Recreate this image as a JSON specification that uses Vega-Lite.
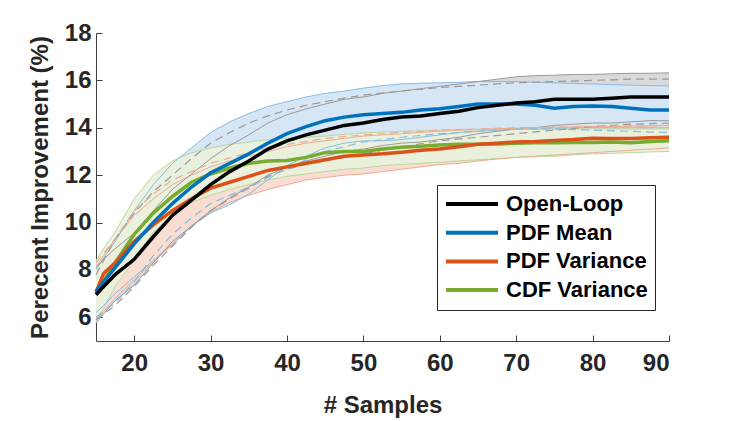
{
  "$schema": "https://vega.github.io/schema/vega-lite/v6.json",
  "width": 573,
  "height": 308,
  "autosize": {"type": "none"},
  "padding": {"left": 96, "top": 33, "right": 70, "bottom": 80},
  "background": "white",
  "config": {
    "view": {"stroke": null},
    "axis": {
      "grid": false,
      "domainColor": "#404040",
      "tickColor": "#404040",
      "tickSize": -6,
      "labelFont": "Liberation Sans",
      "labelFontWeight": "bold",
      "labelFontSize": 24,
      "labelColor": "#262626",
      "titleFont": "Liberation Sans",
      "titleFontWeight": "bold",
      "titleFontSize": 24,
      "titleColor": "#262626"
    }
  },
  "datasets": {
    "main": [
      {"x": 15, "s": "CDF Variance", "m": 7.0, "lo": 5.9, "hi": 8.4},
      {"x": 16, "s": "CDF Variance", "m": 7.5, "lo": 6.4, "hi": 8.9},
      {"x": 17.5, "s": "CDF Variance", "m": 8.3, "lo": 7.3, "hi": 9.6},
      {"x": 20, "s": "CDF Variance", "m": 9.5, "lo": 8.4, "hi": 11.0},
      {"x": 22.5, "s": "CDF Variance", "m": 10.4, "lo": 9.6, "hi": 12.0},
      {"x": 25, "s": "CDF Variance", "m": 11.1, "lo": 10.3, "hi": 12.6},
      {"x": 27.5, "s": "CDF Variance", "m": 11.7, "lo": 10.85, "hi": 12.95},
      {"x": 30, "s": "CDF Variance", "m": 12.05, "lo": 11.15, "hi": 13.15},
      {"x": 32.5, "s": "CDF Variance", "m": 12.3, "lo": 11.4, "hi": 13.3},
      {"x": 35, "s": "CDF Variance", "m": 12.5, "lo": 11.6, "hi": 13.4},
      {"x": 37.5, "s": "CDF Variance", "m": 12.6, "lo": 11.8, "hi": 13.5},
      {"x": 40, "s": "CDF Variance", "m": 12.62, "lo": 11.95, "hi": 13.55},
      {"x": 42.5, "s": "CDF Variance", "m": 12.75, "lo": 12.05, "hi": 13.6},
      {"x": 45, "s": "CDF Variance", "m": 12.95, "lo": 12.15, "hi": 13.65},
      {"x": 47.5, "s": "CDF Variance", "m": 13.0, "lo": 12.25, "hi": 13.72},
      {"x": 50, "s": "CDF Variance", "m": 13.0, "lo": 12.3, "hi": 13.78},
      {"x": 52.5, "s": "CDF Variance", "m": 13.1, "lo": 12.4, "hi": 13.82},
      {"x": 55, "s": "CDF Variance", "m": 13.18, "lo": 12.45, "hi": 13.85},
      {"x": 57.5, "s": "CDF Variance", "m": 13.22, "lo": 12.5, "hi": 13.87},
      {"x": 60, "s": "CDF Variance", "m": 13.27, "lo": 12.55, "hi": 13.9},
      {"x": 62.5, "s": "CDF Variance", "m": 13.3, "lo": 12.6, "hi": 13.92},
      {"x": 65, "s": "CDF Variance", "m": 13.3, "lo": 12.65, "hi": 13.93},
      {"x": 67.5, "s": "CDF Variance", "m": 13.32, "lo": 12.7, "hi": 13.95},
      {"x": 70, "s": "CDF Variance", "m": 13.35, "lo": 12.75, "hi": 13.95},
      {"x": 72.5, "s": "CDF Variance", "m": 13.37, "lo": 12.78, "hi": 13.95},
      {"x": 75, "s": "CDF Variance", "m": 13.37, "lo": 12.8, "hi": 13.95},
      {"x": 77.5, "s": "CDF Variance", "m": 13.38, "lo": 12.85, "hi": 13.95},
      {"x": 80, "s": "CDF Variance", "m": 13.38, "lo": 12.9, "hi": 13.95},
      {"x": 82.5, "s": "CDF Variance", "m": 13.4, "lo": 12.92, "hi": 13.95},
      {"x": 85, "s": "CDF Variance", "m": 13.37, "lo": 12.95, "hi": 13.95},
      {"x": 87.5, "s": "CDF Variance", "m": 13.42, "lo": 12.98, "hi": 13.95},
      {"x": 90, "s": "CDF Variance", "m": 13.45, "lo": 13.0, "hi": 13.95},

      {"x": 15, "s": "PDF Variance", "m": 7.05, "lo": 5.9, "hi": 8.1},
      {"x": 16, "s": "PDF Variance", "m": 7.85, "lo": 6.25, "hi": 8.6},
      {"x": 17.5, "s": "PDF Variance", "m": 8.3, "lo": 6.8, "hi": 9.3},
      {"x": 20, "s": "PDF Variance", "m": 9.2, "lo": 7.6, "hi": 10.3},
      {"x": 22.5, "s": "PDF Variance", "m": 9.9, "lo": 8.35, "hi": 11.0},
      {"x": 25, "s": "PDF Variance", "m": 10.5, "lo": 9.05, "hi": 11.6},
      {"x": 27.5, "s": "PDF Variance", "m": 11.0, "lo": 9.85, "hi": 12.0},
      {"x": 30, "s": "PDF Variance", "m": 11.45, "lo": 10.45, "hi": 12.35},
      {"x": 32.5, "s": "PDF Variance", "m": 11.7, "lo": 10.85, "hi": 12.6},
      {"x": 35, "s": "PDF Variance", "m": 11.95, "lo": 11.15, "hi": 12.8},
      {"x": 37.5, "s": "PDF Variance", "m": 12.2, "lo": 11.4, "hi": 13.0},
      {"x": 40, "s": "PDF Variance", "m": 12.35, "lo": 11.6, "hi": 13.2},
      {"x": 42.5, "s": "PDF Variance", "m": 12.5, "lo": 11.8, "hi": 13.35},
      {"x": 45, "s": "PDF Variance", "m": 12.65, "lo": 11.9, "hi": 13.45},
      {"x": 47.5, "s": "PDF Variance", "m": 12.8, "lo": 12.0, "hi": 13.55},
      {"x": 50, "s": "PDF Variance", "m": 12.85, "lo": 12.05, "hi": 13.65},
      {"x": 52.5, "s": "PDF Variance", "m": 12.9, "lo": 12.15, "hi": 13.7},
      {"x": 55, "s": "PDF Variance", "m": 12.97, "lo": 12.25, "hi": 13.75},
      {"x": 57.5, "s": "PDF Variance", "m": 13.05, "lo": 12.35, "hi": 13.8},
      {"x": 60, "s": "PDF Variance", "m": 13.1, "lo": 12.45, "hi": 13.85},
      {"x": 62.5, "s": "PDF Variance", "m": 13.2, "lo": 12.5, "hi": 13.9},
      {"x": 65, "s": "PDF Variance", "m": 13.3, "lo": 12.6, "hi": 13.92},
      {"x": 67.5, "s": "PDF Variance", "m": 13.35, "lo": 12.68, "hi": 13.95},
      {"x": 70, "s": "PDF Variance", "m": 13.4, "lo": 12.75, "hi": 13.98},
      {"x": 72.5, "s": "PDF Variance", "m": 13.42, "lo": 12.8, "hi": 14.0},
      {"x": 75, "s": "PDF Variance", "m": 13.46, "lo": 12.85, "hi": 14.02},
      {"x": 77.5, "s": "PDF Variance", "m": 13.5, "lo": 12.9, "hi": 14.03},
      {"x": 80, "s": "PDF Variance", "m": 13.56, "lo": 12.95, "hi": 14.05},
      {"x": 82.5, "s": "PDF Variance", "m": 13.55, "lo": 13.0, "hi": 14.05},
      {"x": 85, "s": "PDF Variance", "m": 13.55, "lo": 13.05, "hi": 14.07},
      {"x": 87.5, "s": "PDF Variance", "m": 13.58, "lo": 13.1, "hi": 14.08},
      {"x": 90, "s": "PDF Variance", "m": 13.6, "lo": 13.15, "hi": 14.1},

      {"x": 15, "s": "PDF Mean", "m": 7.1, "lo": 6.2, "hi": 8.0},
      {"x": 16, "s": "PDF Mean", "m": 7.5, "lo": 6.5, "hi": 8.5},
      {"x": 17.5, "s": "PDF Mean", "m": 8.1, "lo": 7.0, "hi": 9.2},
      {"x": 20, "s": "PDF Mean", "m": 9.1, "lo": 7.7, "hi": 10.5},
      {"x": 22.5, "s": "PDF Mean", "m": 10.0, "lo": 8.4, "hi": 11.6},
      {"x": 25, "s": "PDF Mean", "m": 10.8, "lo": 9.1, "hi": 12.5},
      {"x": 27.5, "s": "PDF Mean", "m": 11.5, "lo": 9.85, "hi": 13.15},
      {"x": 30, "s": "PDF Mean", "m": 12.1, "lo": 10.4, "hi": 13.8},
      {"x": 32.5, "s": "PDF Mean", "m": 12.5, "lo": 10.75, "hi": 14.25},
      {"x": 35, "s": "PDF Mean", "m": 12.9, "lo": 11.2, "hi": 14.6},
      {"x": 37.5, "s": "PDF Mean", "m": 13.35, "lo": 11.8, "hi": 14.9},
      {"x": 40, "s": "PDF Mean", "m": 13.75, "lo": 12.4, "hi": 15.1},
      {"x": 42.5, "s": "PDF Mean", "m": 14.05, "lo": 12.8, "hi": 15.3},
      {"x": 45, "s": "PDF Mean", "m": 14.3, "lo": 13.15, "hi": 15.45},
      {"x": 47.5, "s": "PDF Mean", "m": 14.45, "lo": 13.35, "hi": 15.55},
      {"x": 50, "s": "PDF Mean", "m": 14.55, "lo": 13.45, "hi": 15.67},
      {"x": 52.5, "s": "PDF Mean", "m": 14.6, "lo": 13.45, "hi": 15.78},
      {"x": 55, "s": "PDF Mean", "m": 14.65, "lo": 13.5, "hi": 15.85},
      {"x": 57.5, "s": "PDF Mean", "m": 14.75, "lo": 13.6, "hi": 15.88},
      {"x": 60, "s": "PDF Mean", "m": 14.8, "lo": 13.7, "hi": 15.9},
      {"x": 62.5, "s": "PDF Mean", "m": 14.9, "lo": 13.8, "hi": 15.92},
      {"x": 65, "s": "PDF Mean", "m": 15.0, "lo": 13.85, "hi": 15.95},
      {"x": 67.5, "s": "PDF Mean", "m": 15.0, "lo": 13.9, "hi": 15.95},
      {"x": 70, "s": "PDF Mean", "m": 15.0, "lo": 13.95, "hi": 15.95},
      {"x": 72.5, "s": "PDF Mean", "m": 14.95, "lo": 13.95, "hi": 15.92},
      {"x": 75, "s": "PDF Mean", "m": 14.82, "lo": 13.95, "hi": 15.9},
      {"x": 77.5, "s": "PDF Mean", "m": 14.9, "lo": 14.0, "hi": 15.87},
      {"x": 80, "s": "PDF Mean", "m": 14.92, "lo": 14.0, "hi": 15.85},
      {"x": 82.5, "s": "PDF Mean", "m": 14.9, "lo": 14.0, "hi": 15.82},
      {"x": 85, "s": "PDF Mean", "m": 14.82, "lo": 14.0, "hi": 15.8},
      {"x": 87.5, "s": "PDF Mean", "m": 14.75, "lo": 14.0, "hi": 15.78},
      {"x": 90, "s": "PDF Mean", "m": 14.75, "lo": 14.0, "hi": 15.76},

      {"x": 15, "s": "Open-Loop", "m": 6.95, "lo": 5.75, "hi": 8.1},
      {"x": 16, "s": "Open-Loop", "m": 7.3, "lo": 6.15, "hi": 8.45},
      {"x": 17.5, "s": "Open-Loop", "m": 7.8, "lo": 6.7, "hi": 8.9},
      {"x": 20, "s": "Open-Loop", "m": 8.45, "lo": 7.35, "hi": 9.55},
      {"x": 22.5, "s": "Open-Loop", "m": 9.4, "lo": 8.3, "hi": 10.5},
      {"x": 25, "s": "Open-Loop", "m": 10.3, "lo": 9.2, "hi": 11.4},
      {"x": 27.5, "s": "Open-Loop", "m": 10.95, "lo": 9.85, "hi": 12.05},
      {"x": 30, "s": "Open-Loop", "m": 11.6, "lo": 10.5, "hi": 12.7},
      {"x": 32.5, "s": "Open-Loop", "m": 12.15, "lo": 11.05, "hi": 13.25},
      {"x": 35, "s": "Open-Loop", "m": 12.6, "lo": 11.5, "hi": 13.7},
      {"x": 37.5, "s": "Open-Loop", "m": 13.1, "lo": 12.0, "hi": 14.2},
      {"x": 40, "s": "Open-Loop", "m": 13.45, "lo": 12.35, "hi": 14.55},
      {"x": 42.5, "s": "Open-Loop", "m": 13.7, "lo": 12.6, "hi": 14.8},
      {"x": 45, "s": "Open-Loop", "m": 13.9, "lo": 12.8, "hi": 15.0},
      {"x": 47.5, "s": "Open-Loop", "m": 14.1, "lo": 13.0, "hi": 15.2},
      {"x": 50, "s": "Open-Loop", "m": 14.2, "lo": 13.1, "hi": 15.3},
      {"x": 52.5, "s": "Open-Loop", "m": 14.35, "lo": 13.25, "hi": 15.45},
      {"x": 55, "s": "Open-Loop", "m": 14.45, "lo": 13.35, "hi": 15.55},
      {"x": 57.5, "s": "Open-Loop", "m": 14.5, "lo": 13.4, "hi": 15.65},
      {"x": 60, "s": "Open-Loop", "m": 14.6, "lo": 13.5, "hi": 15.75},
      {"x": 62.5, "s": "Open-Loop", "m": 14.7, "lo": 13.6, "hi": 15.85},
      {"x": 65, "s": "Open-Loop", "m": 14.85, "lo": 13.75, "hi": 15.95},
      {"x": 67.5, "s": "Open-Loop", "m": 14.95, "lo": 13.85, "hi": 16.05},
      {"x": 70, "s": "Open-Loop", "m": 15.05, "lo": 13.95, "hi": 16.15},
      {"x": 72.5, "s": "Open-Loop", "m": 15.1, "lo": 14.0, "hi": 16.2},
      {"x": 75, "s": "Open-Loop", "m": 15.2, "lo": 14.1, "hi": 16.22},
      {"x": 77.5, "s": "Open-Loop", "m": 15.2, "lo": 14.15, "hi": 16.25},
      {"x": 80, "s": "Open-Loop", "m": 15.2, "lo": 14.2, "hi": 16.25},
      {"x": 82.5, "s": "Open-Loop", "m": 15.25, "lo": 14.2, "hi": 16.28},
      {"x": 85, "s": "Open-Loop", "m": 15.3, "lo": 14.25, "hi": 16.3},
      {"x": 87.5, "s": "Open-Loop", "m": 15.3, "lo": 14.3, "hi": 16.3},
      {"x": 90, "s": "Open-Loop", "m": 15.3, "lo": 14.3, "hi": 16.32}
    ],
    "dash": [
      {"x": 15, "s": "Open-Loop", "k": "hi", "v": 7.8},
      {"x": 17.5, "s": "Open-Loop", "k": "hi", "v": 9.3},
      {"x": 20, "s": "Open-Loop", "k": "hi", "v": 10.4},
      {"x": 22.5, "s": "Open-Loop", "k": "hi", "v": 11.3},
      {"x": 25, "s": "Open-Loop", "k": "hi", "v": 12.0},
      {"x": 27.5, "s": "Open-Loop", "k": "hi", "v": 12.7},
      {"x": 30, "s": "Open-Loop", "k": "hi", "v": 13.35},
      {"x": 32.5, "s": "Open-Loop", "k": "hi", "v": 13.8},
      {"x": 35, "s": "Open-Loop", "k": "hi", "v": 14.2},
      {"x": 37.5, "s": "Open-Loop", "k": "hi", "v": 14.5},
      {"x": 40, "s": "Open-Loop", "k": "hi", "v": 14.75},
      {"x": 42.5, "s": "Open-Loop", "k": "hi", "v": 14.95},
      {"x": 45, "s": "Open-Loop", "k": "hi", "v": 15.1},
      {"x": 47.5, "s": "Open-Loop", "k": "hi", "v": 15.25},
      {"x": 50, "s": "Open-Loop", "k": "hi", "v": 15.38},
      {"x": 55, "s": "Open-Loop", "k": "hi", "v": 15.55},
      {"x": 60, "s": "Open-Loop", "k": "hi", "v": 15.7},
      {"x": 65, "s": "Open-Loop", "k": "hi", "v": 15.8},
      {"x": 70, "s": "Open-Loop", "k": "hi", "v": 15.9},
      {"x": 75, "s": "Open-Loop", "k": "hi", "v": 15.95},
      {"x": 80, "s": "Open-Loop", "k": "hi", "v": 16.0},
      {"x": 85, "s": "Open-Loop", "k": "hi", "v": 16.05},
      {"x": 90, "s": "Open-Loop", "k": "hi", "v": 16.05},
      {"x": 15, "s": "Open-Loop", "k": "lo", "v": 5.9},
      {"x": 17.5, "s": "Open-Loop", "k": "lo", "v": 6.5},
      {"x": 20, "s": "Open-Loop", "k": "lo", "v": 7.3},
      {"x": 22.5, "s": "Open-Loop", "k": "lo", "v": 8.2},
      {"x": 25, "s": "Open-Loop", "k": "lo", "v": 9.0},
      {"x": 27.5, "s": "Open-Loop", "k": "lo", "v": 9.8},
      {"x": 30, "s": "Open-Loop", "k": "lo", "v": 10.5},
      {"x": 32.5, "s": "Open-Loop", "k": "lo", "v": 11.0},
      {"x": 35, "s": "Open-Loop", "k": "lo", "v": 11.45},
      {"x": 37.5, "s": "Open-Loop", "k": "lo", "v": 11.95},
      {"x": 40, "s": "Open-Loop", "k": "lo", "v": 12.25},
      {"x": 42.5, "s": "Open-Loop", "k": "lo", "v": 12.45},
      {"x": 45, "s": "Open-Loop", "k": "lo", "v": 12.6},
      {"x": 50, "s": "Open-Loop", "k": "lo", "v": 12.9},
      {"x": 55, "s": "Open-Loop", "k": "lo", "v": 13.2},
      {"x": 60, "s": "Open-Loop", "k": "lo", "v": 13.45},
      {"x": 65, "s": "Open-Loop", "k": "lo", "v": 13.6},
      {"x": 70, "s": "Open-Loop", "k": "lo", "v": 13.75},
      {"x": 75, "s": "Open-Loop", "k": "lo", "v": 13.9},
      {"x": 80, "s": "Open-Loop", "k": "lo", "v": 14.05},
      {"x": 85, "s": "Open-Loop", "k": "lo", "v": 14.15},
      {"x": 90, "s": "Open-Loop", "k": "lo", "v": 14.2},
      {"x": 15, "s": "PDF Mean", "k": "lo", "v": 6.0},
      {"x": 17.5, "s": "PDF Mean", "k": "lo", "v": 6.6},
      {"x": 20, "s": "PDF Mean", "k": "lo", "v": 7.5},
      {"x": 22.5, "s": "PDF Mean", "k": "lo", "v": 8.6},
      {"x": 25, "s": "PDF Mean", "k": "lo", "v": 9.5},
      {"x": 27.5, "s": "PDF Mean", "k": "lo", "v": 10.2},
      {"x": 30, "s": "PDF Mean", "k": "lo", "v": 10.8},
      {"x": 35, "s": "PDF Mean", "k": "lo", "v": 11.5},
      {"x": 40, "s": "PDF Mean", "k": "lo", "v": 12.3},
      {"x": 45, "s": "PDF Mean", "k": "lo", "v": 13.0},
      {"x": 50, "s": "PDF Mean", "k": "lo", "v": 13.4},
      {"x": 55, "s": "PDF Mean", "k": "lo", "v": 13.6},
      {"x": 60, "s": "PDF Mean", "k": "lo", "v": 13.75},
      {"x": 65, "s": "PDF Mean", "k": "lo", "v": 13.85},
      {"x": 70, "s": "PDF Mean", "k": "lo", "v": 13.95},
      {"x": 75, "s": "PDF Mean", "k": "lo", "v": 13.95},
      {"x": 80, "s": "PDF Mean", "k": "lo", "v": 13.9},
      {"x": 85, "s": "PDF Mean", "k": "lo", "v": 13.85},
      {"x": 90, "s": "PDF Mean", "k": "lo", "v": 13.8},
      {"x": 15, "s": "PDF Variance", "k": "hi", "v": 8.3},
      {"x": 17.5, "s": "PDF Variance", "k": "hi", "v": 9.3},
      {"x": 20, "s": "PDF Variance", "k": "hi", "v": 10.5},
      {"x": 22.5, "s": "PDF Variance", "k": "hi", "v": 11.2},
      {"x": 25, "s": "PDF Variance", "k": "hi", "v": 11.8},
      {"x": 30, "s": "PDF Variance", "k": "hi", "v": 12.5},
      {"x": 35, "s": "PDF Variance", "k": "hi", "v": 12.95},
      {"x": 40, "s": "PDF Variance", "k": "hi", "v": 13.3},
      {"x": 45, "s": "PDF Variance", "k": "hi", "v": 13.55},
      {"x": 50, "s": "PDF Variance", "k": "hi", "v": 13.7},
      {"x": 60, "s": "PDF Variance", "k": "hi", "v": 13.9},
      {"x": 70, "s": "PDF Variance", "k": "hi", "v": 14.0},
      {"x": 80, "s": "PDF Variance", "k": "hi", "v": 14.05},
      {"x": 90, "s": "PDF Variance", "k": "hi", "v": 14.1}
    ]
  },
  "encoding": {
    "x": {
      "field": "x", "type": "quantitative",
      "scale": {"domain": [15, 90], "nice": false, "zero": false},
      "axis": {"title": "# Samples", "values": [20, 30, 40, 50, 60, 70, 80, 90], "labelPadding": 16, "titlePadding": 18}
    }
  },
  "layer": [
    {
      "data": {"name": "main"},
      "transform": [{"filter": {"field": "s", "equal": "Open-Loop"}}],
      "mark": {"type": "area", "color": "#d9d9d9", "opacity": 1},
      "encoding": {
        "y": {"field": "lo", "type": "quantitative", "scale": {"domain": [5, 18], "nice": false, "zero": false},
              "axis": {"title": "Perecent Improvement (%)", "values": [6, 8, 10, 12, 14, 16, 18], "labelPadding": 11, "titlePadding": 12}},
        "y2": {"field": "hi"}
      }
    },
    {
      "data": {"name": "main"},
      "transform": [{"filter": {"field": "s", "equal": "PDF Mean"}}],
      "mark": {"type": "area", "color": "#d6e6f4", "opacity": 1},
      "encoding": {"y": {"field": "lo", "type": "quantitative"}, "y2": {"field": "hi"}}
    },
    {
      "data": {"name": "main"},
      "transform": [{"filter": {"field": "s", "equal": "PDF Variance"}}],
      "mark": {"type": "area", "color": "#f9ddd2", "opacity": 1},
      "encoding": {"y": {"field": "lo", "type": "quantitative"}, "y2": {"field": "hi"}}
    },
    {
      "data": {"name": "main"},
      "transform": [{"filter": {"field": "s", "equal": "CDF Variance"}}],
      "mark": {"type": "area", "color": "#e9f1dd", "opacity": 0.92},
      "encoding": {"y": {"field": "lo", "type": "quantitative"}, "y2": {"field": "hi"}}
    },
    {
      "data": {"name": "main"},
      "mark": {"type": "line", "strokeWidth": 1},
      "encoding": {
        "y": {"field": "lo", "type": "quantitative"},
        "stroke": {"field": "s", "type": "nominal", "legend": null,
                   "scale": {"range": ["#bcd89a", "#9a9a9a", "#86bce2", "#eeab8f"]}}
      }
    },
    {
      "data": {"name": "main"},
      "mark": {"type": "line", "strokeWidth": 1},
      "encoding": {
        "y": {"field": "hi", "type": "quantitative"},
        "stroke": {"field": "s", "type": "nominal", "legend": null}
      }
    },
    {
      "data": {"name": "dash"},
      "mark": {"type": "line", "strokeWidth": 1.2, "strokeDash": [8, 5]},
      "encoding": {
        "y": {"field": "v", "type": "quantitative"},
        "stroke": {"field": "s", "type": "nominal", "legend": null},
        "detail": {"field": "k"}
      }
    },
    {
      "data": {"name": "main"},
      "transform": [{"filter": {"field": "s", "equal": "CDF Variance"}}],
      "mark": {"type": "line", "strokeWidth": 3.5},
      "encoding": {
        "y": {"field": "m", "type": "quantitative"},
        "color": {"field": "s", "type": "nominal",
                  "scale": {"domain": ["Open-Loop", "PDF Mean", "PDF Variance", "CDF Variance"], "range": ["#000000", "#0072BD", "#D95319", "#77AC30"]},
                  "legend": {
                    "title": null, "orient": "none", "legendX": 341, "legendY": 152,
                    "symbolType": "stroke", "symbolStrokeWidth": 4, "symbolSize": 2704,
                    "labelFont": "Liberation Sans", "labelFontWeight": "bold", "labelFontSize": 22, "labelColor": "#000000",
                    "labelOffset": 6, "padding": 7, "rowPadding": 4.7, "clipHeight": 24,
                    "strokeColor": "#262626", "fillColor": "#ffffff", "cornerRadius": 0
                  }}
      }
    },
    {
      "data": {"name": "main"},
      "transform": [{"filter": {"field": "s", "equal": "PDF Variance"}}],
      "mark": {"type": "line", "strokeWidth": 3.5},
      "encoding": {"y": {"field": "m", "type": "quantitative"}, "color": {"field": "s", "type": "nominal"}}
    },
    {
      "data": {"name": "main"},
      "transform": [{"filter": {"field": "s", "equal": "PDF Mean"}}],
      "mark": {"type": "line", "strokeWidth": 3.5},
      "encoding": {"y": {"field": "m", "type": "quantitative"}, "color": {"field": "s", "type": "nominal"}}
    },
    {
      "data": {"name": "main"},
      "transform": [{"filter": {"field": "s", "equal": "Open-Loop"}}],
      "mark": {"type": "line", "strokeWidth": 3.5},
      "encoding": {"y": {"field": "m", "type": "quantitative"}, "color": {"field": "s", "type": "nominal"}}
    }
  ]
}
